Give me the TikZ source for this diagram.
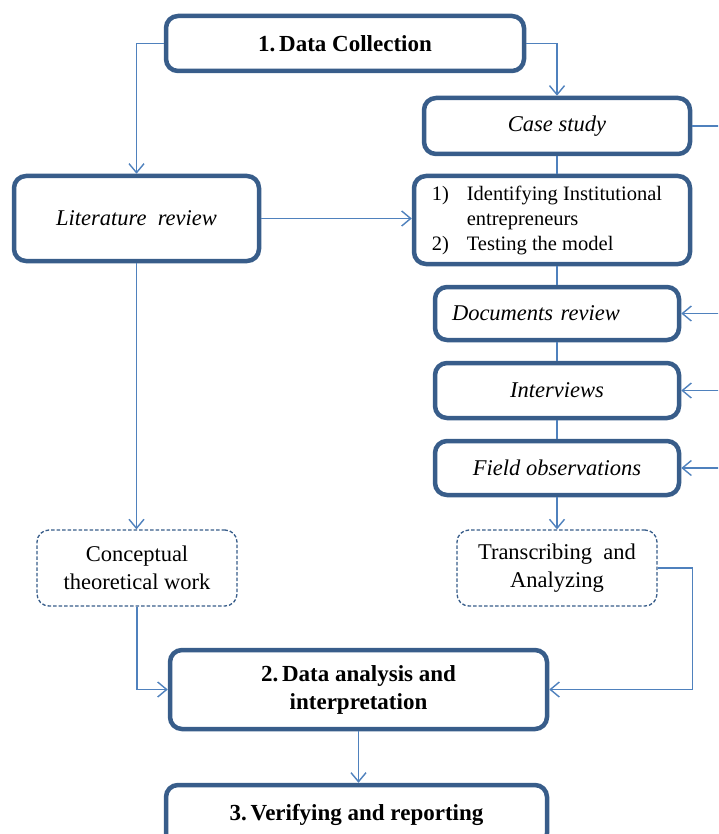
\documentclass[tikz,border=0pt]{standalone}
\usepackage{fontspec}
\setmainfont{Liberation Serif}
\usetikzlibrary{arrows.meta}
\definecolor{boxline}{RGB}{56,93,138}
\definecolor{flowline}{RGB}{79,129,189}
\begin{document}
\begin{tikzpicture}[x=1pt,y=-1pt,
  mainbox/.style={draw=boxline, line width=4.5pt, rounded corners=12pt,
    fill=white, align=center, inner sep=0pt},
  softbox/.style={draw=boxline, line width=1.3pt, dash pattern=on 3.5pt off 2pt,
    rounded corners=12pt, fill=white, align=center, inner sep=0pt,
    minimum width=200pt, minimum height=76pt},
  conn/.style={draw=flowline, line width=1.4pt},
  arr/.style={conn, -{Straight Barb[length=9pt,width=15pt,line width=1.4pt]}},
  txt/.style={font=\fontsize{22.5pt}{28pt}\selectfont},
  btxt/.style={font=\fontsize{23pt}{28pt}\selectfont\bfseries},
  itxt/.style={font=\fontsize{22.5pt}{28pt}\selectfont\itshape}]
\useasboundingbox (0,0) rectangle (718,834);
\clip (0,0) rectangle (718,834);

% stage boxes
\node[mainbox, btxt, minimum width=358pt, minimum height=55pt] (dc) at (345,43.5) {1.\,Data Collection};
\node[mainbox, itxt, minimum width=266pt, minimum height=56pt] (cs) at (557,126) {Case study};
\node[mainbox, minimum width=276pt, minimum height=88pt, font=\fontsize{20.5pt}{25pt}\selectfont] (ident) at (552,220)
  {\begin{tabular}{@{}p{35pt}@{}l@{}}1) & Identifying Institutional\\ & entrepreneurs\\ 2) & Testing the model\end{tabular}\hspace{10pt}};
\node[mainbox, itxt, minimum width=245pt, minimum height=85pt] (lit) at (136.5,218.5) {Literature~~review};
\node[mainbox, itxt, minimum width=244pt, minimum height=53pt, text width=210pt, align=left] (docs) at (557,313.5) {Documents review};
\node[mainbox, itxt, minimum width=244pt, minimum height=55pt] (int) at (557,390.5) {Interviews};
\node[mainbox, itxt, minimum width=244pt, minimum height=54pt] (field) at (557,468) {Field observations};
\node[softbox, txt] (conc) at (137,568) {Conceptual\\theoretical work};
\node[softbox, txt] (trans) at (557,568) {Transcribing~~and\\Analyzing};
\node[mainbox, btxt, minimum width=377pt, minimum height=79pt] (da) at (358.5,689.5) {2.\,Data analysis and\\interpretation};
\node[mainbox, btxt, minimum width=381pt, minimum height=60pt] (ver) at (356.5,815) {3.\,Verifying and reporting};

% side feed from the case study down the right margin
\coordinate (rt) at (730,126);
\coordinate (rb) at (730,468);

% connectors
\draw[arr] (dc.west) -| (lit.north);
\draw[arr] (dc.east) -| (cs.north);
\draw[conn] (cs.south) -- (cs.south |- ident.north);
\draw[conn] (ident.south -| docs.north) -- (docs.north);
\draw[conn] (docs.south) -- (int.north);
\draw[conn] (int.south) -- (field.north);
\draw[arr] (field.south) -- (trans.north);
\draw[conn] (cs.east) -- (rt) -- (rb);
\draw[arr] (rt |- docs.east) -- (docs.east);
\draw[arr] (rt |- int.east) -- (int.east);
\draw[arr] (rb) -- (field.east);
\draw[arr] (lit.east) -- (lit.east -| ident.west);
\draw[arr] (lit.south) -- (lit.south |- conc.north);
\draw[arr] (conc.south) |- (da.west);
\draw[arr] (trans.east) -- ++(35,0) |- (da.east);
\draw[arr] (da.south) -- (da.south |- ver.north);
\end{tikzpicture}
\end{document}
